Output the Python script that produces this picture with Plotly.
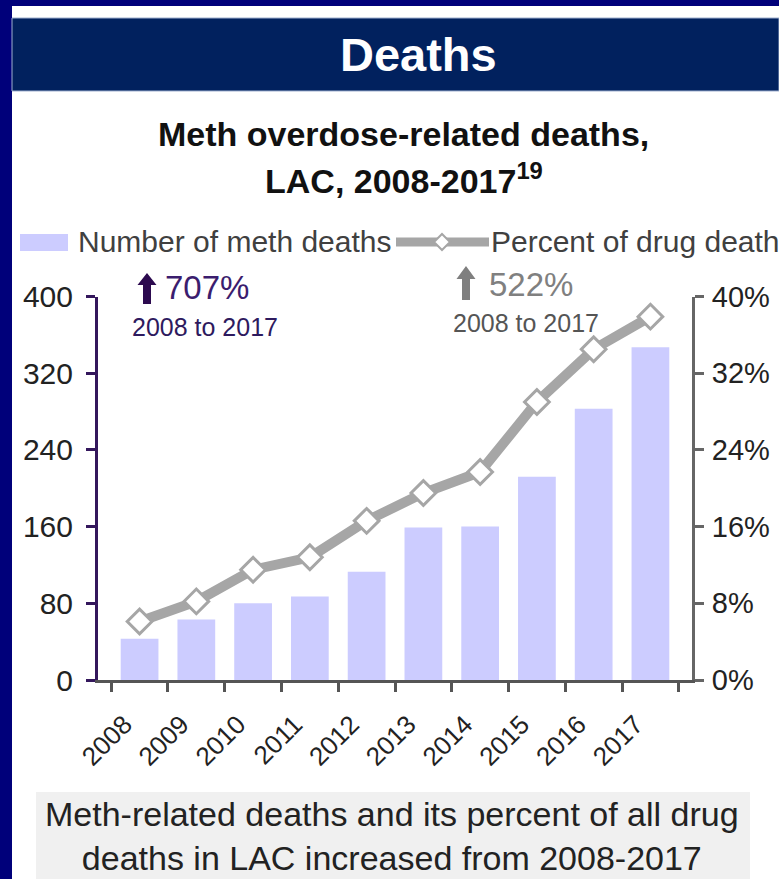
import plotly.graph_objects as go

# Data
years = ["2008", "2009", "2010", "2011", "2012", "2013", "2014", "2015", "2016", "2017"]
meth_deaths = [43, 63, 80, 87, 113, 159, 160, 212, 283, 347]
pct_drug_deaths = [6.1, 8.2, 11.5, 12.8, 16.6, 19.5, 21.7, 29.0, 34.5, 37.9]
left_ticks = [0, 80, 160, 240, 320, 400]
right_ticks = [0, 8, 16, 24, 32, 40]
right_tick_labels = [f"{v}%" for v in right_ticks]

W, H = 779, 879
FONT = "Liberation Sans, Arial, sans-serif"
BAR_COLOR = "#ccccff"
LINE_COLOR = "#a6a6a6"
PURPLE = "#34175c"


def px(x):
    return x / W


def py(y):
    return 1 - y / H


def arrow_path(cx, top, bottom, head_w, shaft_w, head_h):
    pts = [
        (cx, top),
        (cx + head_w / 2, top + head_h),
        (cx + shaft_w / 2, top + head_h),
        (cx + shaft_w / 2, bottom),
        (cx - shaft_w / 2, bottom),
        (cx - shaft_w / 2, top + head_h),
        (cx - head_w / 2, top + head_h),
    ]
    return "M " + " L ".join(f"{px(x):.5f},{py(y):.5f}" for x, y in pts) + " Z"


def label(text, x, y, size, color, xanchor="center", bold=False):
    if bold:
        text = f"<b>{text}</b>"
    return dict(text=text, x=px(x), y=py(y), xref="paper", yref="paper",
                xanchor=xanchor, yanchor="middle", showarrow=False,
                font=dict(family=FONT, size=size, color=color))


fig = go.Figure()

fig.add_trace(go.Bar(
    x=years, y=meth_deaths, name="Number of meth deaths",
    marker=dict(color=BAR_COLOR, line=dict(width=0)),
    yaxis="y",
))
fig.add_trace(go.Scatter(
    x=years, y=pct_drug_deaths, name="Percent of drug deaths",
    yaxis="y2", mode="lines+markers",
    line=dict(color=LINE_COLOR, width=10),
    marker=dict(symbol="diamond", size=19, color="white",
                line=dict(color=LINE_COLOR, width=3)),
    cliponaxis=False,
))

shapes = [
    # navy frame
    dict(type="rect", xref="paper", yref="paper", x0=0, x1=1, y0=py(6), y1=1,
         fillcolor="#00007a", line=dict(width=0), layer="below"),
    dict(type="rect", xref="paper", yref="paper", x0=0, x1=px(12), y0=0, y1=1,
         fillcolor="#00007a", line=dict(width=0), layer="below"),
    # header band
    dict(type="rect", xref="paper", yref="paper", x0=px(12), x1=1, y0=py(91), y1=py(18),
         fillcolor="#01215e", line=dict(color="#9fb0cf", width=1), layer="below"),
    # bottom caption box
    dict(type="rect", xref="paper", yref="paper", x0=px(36), x1=px(750), y0=0, y1=py(792),
         fillcolor="#f0f0f0", line=dict(width=0), layer="below"),
    # legend swatches
    dict(type="rect", xref="paper", yref="paper", x0=px(20), x1=px(68), y0=py(251), y1=py(234),
         fillcolor=BAR_COLOR, line=dict(width=0)),
    dict(type="line", xref="paper", yref="paper", x0=px(396), x1=px(489), y0=py(242), y1=py(242),
         line=dict(color=LINE_COLOR, width=9)),
    dict(type="path", xref="paper", yref="paper",
         path=f"M {px(442-8):.5f},{py(242):.5f} L {px(442):.5f},{py(234):.5f} "
              f"L {px(442+8):.5f},{py(242):.5f} L {px(442):.5f},{py(250):.5f} Z",
         fillcolor="white", line=dict(color=LINE_COLOR, width=2)),
    # up arrows
    dict(type="path", xref="paper", yref="paper",
         path=arrow_path(147, 273, 304, 19, 8, 12),
         fillcolor="#2c0a4f", line=dict(width=0)),
    dict(type="path", xref="paper", yref="paper",
         path=arrow_path(466, 266, 300, 19, 8, 13),
         fillcolor="#7f7f7f", line=dict(width=0)),
]

annotations = [
    label("Deaths", 418, 55, 47, "white", bold=True),
    label("Meth overdose-related deaths,", 404, 134, 34, "#111111", bold=True),
    label("LAC, 2008-2017<sup>19</sup>", 404, 178, 34, "#111111", bold=True),
    label("Number of meth deaths", 76, 242, 30, "#404040", xanchor="left"),
    label("Percent of drug deaths", 489, 242, 30, "#404040", xanchor="left"),
    label("707%", 163, 287, 33, "#3b1d6e", xanchor="left"),
    label("2008 to 2017", 205, 327, 25, "#2e1a5e"),
    label("522%", 487, 285, 33, "#808080", xanchor="left"),
    label("2008 to 2017", 526, 323, 25, "#555555"),
    label("Meth-related deaths and its percent of all drug<br>deaths in LAC increased from 2008-2017",
          392, 836, 34, "#222222"),
]

fig.update_layout(
    template="none",
    width=W, height=H,
    margin=dict(l=0, r=0, t=0, b=0, pad=0, autoexpand=False),
    paper_bgcolor="white", plot_bgcolor="white",
    showlegend=False,
    bargap=0.335,
    font=dict(family=FONT, color="#222222"),
    shapes=shapes,
    annotations=annotations,
    xaxis=dict(
        domain=[px(98), px(692)], anchor="y", type="category", automargin=False,
        showline=True, linecolor="#555555", linewidth=3,
        ticks="outside", tickson="boundaries", ticklen=9, tickwidth=3, tickcolor="#555555",
        tickangle=-45, tickfont=dict(family=FONT, size=26, color="#222222"),
        ticklabelstandoff=16, ticklabelshift=-15,
        showgrid=False, zeroline=False,
    ),
    yaxis=dict(
        domain=[1 - 680 / H, 1 - 296.5 / H], range=[0, 400], automargin=False,
        tickmode="array", tickvals=left_ticks,
        showline=True, linecolor=PURPLE, linewidth=3,
        ticks="outside", ticklen=9, tickwidth=3, tickcolor=PURPLE,
        tickfont=dict(family=FONT, size=30, color="#222222"),
        ticklabelstandoff=7,
        showgrid=False, zeroline=False,
    ),
    yaxis2=dict(
        domain=[1 - 680 / H, 1 - 296.5 / H], range=[0, 40], automargin=False,
        overlaying="y", side="right", anchor="x",
        tickmode="array", tickvals=right_ticks, ticktext=right_tick_labels,
        showline=True, linecolor="#666666", linewidth=3,
        ticks="outside", ticklen=9, tickwidth=3, tickcolor="#666666",
        tickfont=dict(family=FONT, size=29, color="#222222"),
        ticklabelstandoff=2,
        showgrid=False, zeroline=False,
    ),
)

fig.write_html("out.html")
